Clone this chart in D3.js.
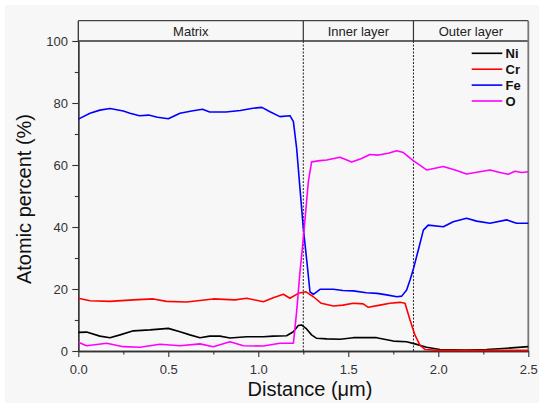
<!DOCTYPE html>
<html><head><meta charset="utf-8">
<script src="https://cdn.jsdelivr.net/npm/d3@7/dist/d3.min.js"></script>
<style>html,body{margin:0;padding:0;background:#fff;}svg{display:block;font-family:"Liberation Sans",Arial,sans-serif;}</style>
</head><body>
<script>
const xTicks = [0.0, 0.5, 1.0, 1.5, 2.0, 2.5];
const yTicks = [0, 20, 40, 60, 80, 100];
const regions = [
  {name: "Matrix", from: 0, to: 1.25},
  {name: "Inner layer", from: 1.25, to: 1.862},
  {name: "Outer layer", from: 1.862, to: 2.5}
];
const seriesNames = ["Ni", "Cr", "Fe", "O"];
const seriesColors = ["#000000", "#ff0000", "#0000ff", "#ff00ff"];

const niData = [[0,6],[0.046,6.1],[0.12,4.8],[0.176,4.3],[0.232,5.2],[0.306,6.5],[0.398,6.8],[0.5,7.3],[0.565,6.2],[0.62,5.2],[0.676,4.3],[0.73,4.8],[0.787,4.8],[0.843,4.2],[0.935,4.6],[1.028,4.6],[1.083,4.8],[1.157,4.9],[1.195,6.2],[1.222,8.2],[1.24,8.4],[1.268,7.1],[1.296,5.2],[1.324,4.1],[1.38,3.9],[1.454,3.8],[1.528,4.3],[1.657,4.3],[1.75,3.2],[1.824,3.0],[1.87,2.3],[1.935,1.2],[2.009,0.5],[2.157,0.3],[2.268,0.5],[2.38,0.9],[2.5,1.4]];
const crData = [[0,17],[0.065,16.2],[0.176,16],[0.306,16.5],[0.417,16.8],[0.49,16],[0.602,15.8],[0.75,16.8],[0.87,16.5],[0.935,17],[1.028,15.9],[1.083,17.2],[1.139,18.3],[1.176,17],[1.222,18.6],[1.265,19.1],[1.306,17.5],[1.35,15.4],[1.417,14.5],[1.47,14.8],[1.528,15.4],[1.583,15.2],[1.611,14.1],[1.676,14.8],[1.731,15.4],[1.787,15.7],[1.815,15.4],[1.843,10],[1.87,5.2],[1.898,1.9],[1.926,0.5],[2.0,0.2],[2.2,0.2],[2.4,0.2],[2.5,0.2]];
const feData = [[0,74.8],[0.065,76.7],[0.12,77.7],[0.176,78.2],[0.25,77.4],[0.287,76.7],[0.34,75.9],[0.39,76.1],[0.44,75.4],[0.5,74.9],[0.565,76.7],[0.63,77.4],[0.69,78],[0.73,77.1],[0.82,77.1],[0.9,77.6],[0.97,78.3],[1.02,78.6],[1.065,77.2],[1.12,75.6],[1.176,75.9],[1.195,74],[1.213,65.4],[1.23,53.5],[1.25,39.6],[1.27,28.8],[1.287,19.1],[1.306,18.3],[1.343,19.9],[1.417,19.9],[1.47,19.5],[1.528,19.4],[1.6,18.8],[1.66,18.6],[1.713,18.1],[1.77,17.5],[1.797,17.7],[1.824,19.7],[1.843,22.9],[1.86,26.1],[1.889,32.6],[1.917,39],[1.944,40.6],[2.028,40.1],[2.083,41.7],[2.157,42.8],[2.213,41.9],[2.287,41.2],[2.38,42.3],[2.435,41.2],[2.5,41.2]];
const oData = [[0,2.8],[0.046,1.7],[0.158,2.5],[0.25,1.4],[0.343,1.2],[0.454,2.2],[0.565,1.7],[0.676,2.3],[0.75,1.4],[0.843,3.0],[0.917,1.7],[1.028,1.6],[1.12,2.5],[1.195,2.5],[1.213,12.7],[1.23,24.5],[1.25,36.3],[1.278,54.6],[1.296,61],[1.343,61.4],[1.38,61.6],[1.454,62.5],[1.519,61],[1.574,62.1],[1.62,63.4],[1.667,63.2],[1.722,63.8],[1.769,64.6],[1.806,64],[1.861,61.4],[1.935,58.4],[2.028,59.5],[2.102,58.2],[2.157,57.1],[2.231,57.8],[2.287,58.4],[2.343,57.6],[2.389,57],[2.426,58],[2.463,57.6],[2.5,57.8]];
const allSeries = [niData, crData, feData, oData];

const W = 539, H = 403;
const m = {left: 78.3, right: 539 - 528.3, top: 41, bottom: 403 - 351};
const svg = d3.select("body").append("svg").attr("width", W).attr("height", H);
svg.append("rect").attr("x", 5).attr("y", 5).attr("width", W - 5).attr("height", H - 5).attr("fill", "#f7f7f7");

const x = d3.scaleLinear().domain([0, 2.5]).range([m.left, W - m.right]);
const y = d3.scaleLinear().domain([0, 100]).range([H - m.bottom, m.top]);
const headerTop = 20.7;

// region dividers
regions.slice(1).forEach(r => {
  svg.append("line").attr("x1", x(r.from)).attr("x2", x(r.from)).attr("y1", headerTop).attr("y2", y(100))
    .attr("stroke", "#333").attr("stroke-width", 1.2);
  svg.append("line").attr("x1", x(r.from)).attr("x2", x(r.from)).attr("y1", y(100)).attr("y2", y(0))
    .attr("stroke", "#222").attr("stroke-width", 1).attr("stroke-dasharray", "2,1.5");
});
regions.forEach(r => {
  svg.append("text").attr("x", (x(r.from) + x(r.to)) / 2).attr("y", 35.5).attr("text-anchor", "middle")
    .attr("font-size", 13).attr("fill", "#222").text(r.name);
});

// frame
svg.append("line").attr("x1", x(0)).attr("x2", x(2.5)).attr("y1", headerTop).attr("y2", headerTop).attr("stroke", "#444").attr("stroke-width", 1.3);
svg.append("line").attr("x1", x(0)).attr("x2", x(2.5)).attr("y1", y(100)).attr("y2", y(100)).attr("stroke", "#333").attr("stroke-width", 1.3);
svg.append("line").attr("x1", x(2.5)).attr("x2", x(2.5)).attr("y1", headerTop).attr("y2", y(0)).attr("stroke", "#777").attr("stroke-width", 1.8);

// axes
const xAxis = d3.axisBottom(x).tickValues(xTicks).tickFormat(d3.format(".1f")).tickSize(6).tickSizeOuter(0);
const xMinor = d3.axisBottom(x).tickValues([0.25, 0.75, 1.25, 1.75, 2.25]).tickFormat("").tickSize(3.5).tickSizeOuter(0);
const yAxis = d3.axisLeft(y).tickValues(yTicks).tickSize(6).tickSizeOuter(0);
const yMinor = d3.axisLeft(y).tickValues([10, 30, 50, 70, 90]).tickFormat("").tickSize(3.5).tickSizeOuter(0);

function styleAxis(g) {
  g.selectAll("path").attr("stroke", "#333").attr("stroke-width", 1.3);
  g.selectAll("line").attr("stroke", "#333").attr("stroke-width", 1.1);
  g.selectAll("text").attr("fill", "#333").attr("font-size", 13).attr("font-family", "'Liberation Sans',Arial,sans-serif");
}
const gx = svg.append("g").attr("transform", `translate(0,${y(0)})`).call(xAxis).call(styleAxis);
gx.selectAll("text").attr("dy", "1.05em");
svg.append("g").attr("transform", `translate(0,${y(0)})`).call(xMinor).call(styleAxis);
const gy = svg.append("g").attr("transform", `translate(${x(0)},0)`).call(yAxis).call(styleAxis);
gy.selectAll("text").attr("dx", "-0.1em");
svg.append("g").attr("transform", `translate(${x(0)},0)`).call(yMinor).call(styleAxis);
svg.append("line").attr("x1", x(0)).attr("x2", x(0)).attr("y1", headerTop).attr("y2", y(100)).attr("stroke", "#333").attr("stroke-width", 1.3);

// lines
const line = d3.line().x(d => x(d[0])).y(d => y(d[1]));
allSeries.forEach((s, i) => {
  svg.append("path").datum(s).attr("d", line).attr("fill", "none")
    .attr("stroke", seriesColors[i]).attr("stroke-width", 1.6).attr("stroke-linejoin", "round");
});

// legend
seriesNames.forEach((n, i) => {
  const yy = 53.3 + i * 15.9;
  svg.append("line").attr("x1", 471.7).attr("x2", 502.3).attr("y1", yy).attr("y2", yy)
    .attr("stroke", seriesColors[i]).attr("stroke-width", 1.6);
  svg.append("text").attr("x", 505.5).attr("y", yy + 4.6).attr("font-size", 13).attr("font-weight", "bold")
    .attr("fill", "#111").text(n);
});

// axis titles
svg.append("text").attr("x", 310).attr("y", 395.5).attr("text-anchor", "middle").attr("font-size", 20).attr("fill", "#111").text("Distance (μm)");
svg.append("text").attr("transform", "translate(31,199) rotate(-90)").attr("text-anchor", "middle").attr("font-size", 20).attr("fill", "#111").text("Atomic percent (%)");
</script>
</body></html>
